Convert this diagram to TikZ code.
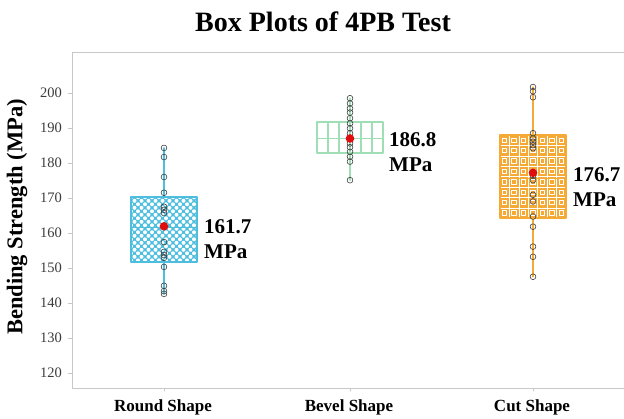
\documentclass[tikz,border=0pt]{standalone}
\usepackage{fontspec}
\setmainfont{Liberation Serif}
\definecolor{roundc}{RGB}{78,190,222}
\definecolor{bevelc}{RGB}{160,222,182}
\definecolor{cutc}{RGB}{244,170,52}
\definecolor{meanc}{RGB}{222,12,12}
\definecolor{axisc}{RGB}{200,200,200}
\definecolor{tickc}{RGB}{60,60,60}

\begin{document}
\begin{tikzpicture}[x=1pt, y=3.5pt, line join=round, line cap=round,
	pt/.style={draw=black!75, line width=0.6pt},
	val/.style={font=\fontsize{21}{25}\selectfont\bfseries, align=left, anchor=west, inner sep=0pt},
	tick/.style={font=\fontsize{14.5}{16}\selectfont, text=tickc, inner sep=0pt},
	cat/.style={font=\fontsize{17}{19}\selectfont\bfseries, inner sep=0pt}]
	\useasboundingbox (0,106.86) rectangle (624,226.57);
	\path 
	(164,0) coordinate (R)
	(350,0) coordinate (B)
	(533,0) coordinate (C)
	;
	
	% frame and axes
	\draw[axisc, line width=1pt] (624,211.7) -- (72,211.7) -- (72,115.7) -- (624,115.7);
	\foreach \v in {120,130,...,200}{
		\draw[axisc] (68,\v) -- (72,\v);
		\node[tick, anchor=east] (t\v) at (62,\v) {\v};
	}
	\draw[axisc] (164,115.7) -- (164,114.8) (350,115.7) -- (350,114.8) (533,115.7) -- (533,114.8);
	
	\node[font=\fontsize{28}{32}\selectfont\bfseries] (title) at (323,220.3) {Box Plots of 4PB Test};
	\node[font=\fontsize{22.5}{26}\selectfont\bfseries, rotate=90] (ylab) at (17,164.6) {Bending Strength (MPa)};
	\node[cat] (catR) at (163,110.3) {Round Shape};
	\node[cat] (catB) at (349,110.3) {Bevel Shape};
	\node[cat] (catC) at (532,110.3) {Cut Shape};
	
	% whiskers
	\draw[roundc, line width=1.5pt] (164,142.6) -- (164,184.3);
	\draw[bevelc, line width=1.5pt] (350,175.1) -- (350,198.5);
	\draw[cutc, line width=1.5pt] (533,147.5) -- (533,201.7);
	
	% round box
	\begin{scope}
		\clip (131,151.7) rectangle (197,170.3);
		\fill[roundc] (131,151.7) rectangle (197,170.3);
		\foreach \j in {0,...,19} \foreach \i in {0,...,9}
		\fill[white] ({131+\i*7+mod(\j,2)*3.5},{151.7+0.5+\j}) circle[radius=2pt];
	\end{scope}
	\draw[roundc, line width=1.5pt] (131,161.6) -- (197,161.6);
	\draw[roundc, line width=2.2pt] (131,151.7) rectangle (197,170.3);
	
	% bevel box
	\fill[white] (317,182.8) rectangle (383,191.8);
	\foreach \i in {1,...,5}
	\draw[bevelc, line width=1.2pt] ({317+\i*11},182.8) -- ({317+\i*11},191.8);
	\draw[bevelc, line width=1.5pt] (317,187) -- (383,187);
	\draw[bevelc, line width=2.2pt] (317,182.8) rectangle (383,191.8);
	
	% cut box
	\begin{scope}
		\clip (500,164.2) rectangle (566,188);
		\fill[cutc] (500,164.2) rectangle (566,188);
		\foreach \j in {0,...,7} \foreach \i in {0,...,6}
		\draw[white, line width=0.9pt] ({500+4.7+\i*9.43},{164.2+1.49+\j*2.975}) ++(-2.2pt,-2.2pt) rectangle ++(4.4pt,4.4pt);
		\foreach \i in {1,...,6}
		\draw[white, line width=0.6pt] ({500+\i*9.43},164.2) -- ({500+\i*9.43},188);
		\foreach \j in {1,...,7}
		\draw[white, line width=0.6pt] (500,{164.2+\j*2.975}) -- (566,{164.2+\j*2.975});
	\end{scope}
	\draw[cutc, line width=1.5pt] (500,175.6) -- (566,175.6);
	\draw[cutc, line width=2.2pt] (500,164.2) rectangle (566,188);
	
	% data points
	\foreach \v in {184.3,181.7,176,171.5,167.5,166.6,165.7,157.4,154.6,153.7,152.9,150.3,144.9,143.4,142.6}
	\draw[pt] (164,\v) circle[radius=2.9pt];
	\foreach \v in {198.5,197,195.6,194.4,192.8,191.3,189.9,188.5,185.6,184.5,183.2,181.8,180.4,175.1}
	\draw[pt] (350,\v) circle[radius=2.9pt];
	\foreach \v in {201.7,200.5,198.8,188.5,187,186.1,185.1,184.2,176.3,175.1,170.9,169,164.7,161.8,156.1,153.2,147.5}
	\draw[pt] (533,\v) circle[radius=2.9pt];
	
	% means
	\fill[meanc] (164,161.9) circle[radius=4.3pt];
	\fill[meanc] (350,187.0) circle[radius=4.3pt];
	\fill[meanc] (533,177.2) circle[radius=4.3pt];
	
	\node[val] (valR) at (204,158.2) {161.7\\MPa};
	\node[val] (valB) at (389,183.1) {186.8\\MPa};
	\node[val] (valC) at (573,173.0) {176.7\\MPa};
	
\end{tikzpicture}
\end{document}
